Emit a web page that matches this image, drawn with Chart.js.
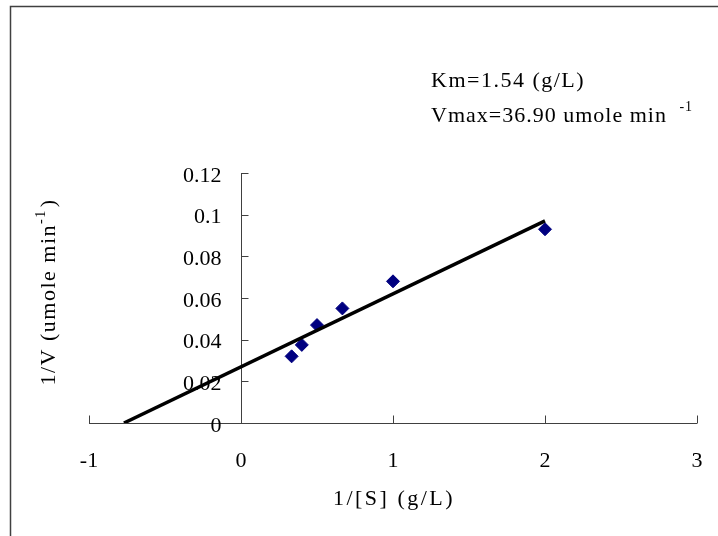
<!DOCTYPE html>
<html>
<head>
<meta charset="utf-8">
<script src="https://cdn.jsdelivr.net/npm/chart.js@4/dist/chart.umd.min.js"></script>
<style>
  html, body { margin: 0; padding: 0; background: #fff; }
  canvas { display: block; }
</style>
</head>
<body>
<canvas id="lb-chart" width="718" height="536"></canvas>
<script>
// Lineweaver-Burk plot: 1/V vs 1/[S]

// ==================== DATA ====================
const invS = [0.333, 0.4, 0.5, 0.667, 1, 2];              // 1/[S] (g/L)
const invV = [0.032, 0.0375, 0.047, 0.055, 0.068, 0.093];  // 1/V
const fitX = [-0.77, 2];                                   // fitted line ends
const fitY = [0, 0.097];
const xTicks = [-1, 0, 1, 2, 3];
const yTicks = [0, 0.02, 0.04, 0.06, 0.08, 0.1, 0.12];
const kmText = 'Km=1.54 (g/L)';
const vmaxText = 'Vmax=36.90 umole min ';
const xTitle = '1/[S] (g/L)';
const yTitle = '1/V (umole min';

const FONT = '"Liberation Serif", "DejaVu Serif", serif';
const AXIS_COLOR = '#404040';

// axes cross at the origin, so lines, tick marks and labels are drawn here from the scales
const axesPlugin = {
    id: 'axesPlugin',
    beforeDatasetsDraw(chart) {
        const { ctx, scales: { x, y } } = chart;
        const x0 = Math.round(x.getPixelForValue(0)) + 0.5;
        const y0 = Math.round(y.getPixelForValue(0)) + 0.5;
        ctx.save();
        ctx.strokeStyle = AXIS_COLOR;
        ctx.lineWidth = 1;
        ctx.beginPath();
        // x axis + ticks up
        ctx.moveTo(x.getPixelForValue(xTicks[0]), y0);
        ctx.lineTo(x.getPixelForValue(xTicks[xTicks.length - 1]), y0);
        x.ticks.forEach(t => {
            const px = Math.round(x.getPixelForValue(t.value)) + 0.5;
            ctx.moveTo(px, y0);
            ctx.lineTo(px, y0 - 8);
        });
        // y axis + ticks right
        ctx.moveTo(x0, y0);
        ctx.lineTo(x0, y.getPixelForValue(yTicks[yTicks.length - 1]));
        y.ticks.forEach(t => {
            const py = Math.round(y.getPixelForValue(t.value)) + 0.5;
            ctx.moveTo(x0, py);
            ctx.lineTo(x0 + 7, py);
        });
        ctx.stroke();

        ctx.fillStyle = '#000';
        ctx.font = '22px ' + FONT;
        ctx.textBaseline = 'middle';
        // y tick labels, left of the axis
        ctx.textAlign = 'right';
        y.ticks.forEach(t => {
            ctx.fillText(String(+t.value.toFixed(2)), x0 - 20, y.getPixelForValue(t.value) + 3);
        });
        // x tick labels, well below the axis
        ctx.textAlign = 'center';
        x.ticks.forEach(t => {
            ctx.fillText(String(t.value), x.getPixelForValue(t.value), y0 + 38);
        });
        ctx.restore();
    },
    afterDraw(chart) {
        const { ctx } = chart;
        ctx.save();
        // outer frame (top/left visible)
        ctx.strokeStyle = AXIS_COLOR;
        ctx.lineWidth = 1.5;
        ctx.beginPath();
        ctx.moveTo(10.5, 540);
        ctx.lineTo(10.5, 6.5);
        ctx.lineTo(720, 6.5);
        ctx.stroke();

        ctx.fillStyle = '#000';
        ctx.letterSpacing = '1.5px';
        ctx.textBaseline = 'alphabetic';
        ctx.textAlign = 'left';
        // Km / Vmax annotation
        ctx.font = '22px ' + FONT;
        ctx.fillText(kmText, 431, 87);
        ctx.letterSpacing = '1px';
        ctx.fillText(vmaxText, 431, 122);
        const w = ctx.measureText(vmaxText).width;
        ctx.font = '14px ' + FONT;
        ctx.fillText('-1', 431 + w + 6, 111);

        // x title
        ctx.letterSpacing = '2.5px';
        ctx.font = '22px ' + FONT;
        ctx.textAlign = 'center';
        ctx.fillText(xTitle, 394, 505);

        // y title rotated, with superscript
        ctx.letterSpacing = '1.5px';
        ctx.translate(55, 292);
        ctx.rotate(-Math.PI / 2);
        ctx.textAlign = 'left';
        ctx.font = '22px ' + FONT;
        const w1 = ctx.measureText(yTitle).width;
        ctx.font = '14px ' + FONT;
        const w2 = ctx.measureText('-1').width;
        ctx.font = '22px ' + FONT;
        const w3 = ctx.measureText(')').width;
        const start = -(w1 + w2 + w3 + 2) / 2;
        ctx.fillText(yTitle, start, 0);
        ctx.font = '14px ' + FONT;
        ctx.fillText('-1', start + w1, -10);
        ctx.font = '22px ' + FONT;
        ctx.fillText(')', start + w1 + w2 + 2, 0);
        ctx.restore();
    }
};

new Chart(document.getElementById('lb-chart'), {
    type: 'scatter',
    data: {
        datasets: [
            {
                type: 'line',
                label: 'fit',
                data: fitX.map((v, i) => ({ x: v, y: fitY[i] })),
                borderColor: '#000',
                borderWidth: 3.5,
                pointRadius: 0,
                fill: false,
                tension: 0
            },
            {
                label: '1/V',
                data: invS.map((v, i) => ({ x: v, y: invV[i] })),
                pointStyle: 'rectRot',
                pointRadius: 6.5,
                pointHoverRadius: 6.5,
                backgroundColor: '#000080',
                borderColor: '#000080',
                borderWidth: 1
            }
        ]
    },
    options: {
        responsive: false,
        animation: false,
        layout: { padding: { left: 89, right: 21, top: 173, bottom: 113 } },
        plugins: { legend: { display: false }, tooltip: { enabled: false } },
        scales: {
            x: {
                type: 'linear',
                position: { y: 0 },
                min: -1, max: 3,
                afterBuildTicks: s => { s.ticks = xTicks.map(v => ({ value: v })); },
                grid: { display: false, drawTicks: false },
                border: { display: false },
                ticks: { display: false }
            },
            y: {
                type: 'linear',
                position: { x: 0 },
                min: 0, max: 0.12,
                afterBuildTicks: s => { s.ticks = yTicks.map(v => ({ value: v })); },
                grid: { display: false, drawTicks: false },
                border: { display: false },
                ticks: { display: false }
            }
        }
    },
    plugins: [axesPlugin]
});
</script>
</body>
</html>
